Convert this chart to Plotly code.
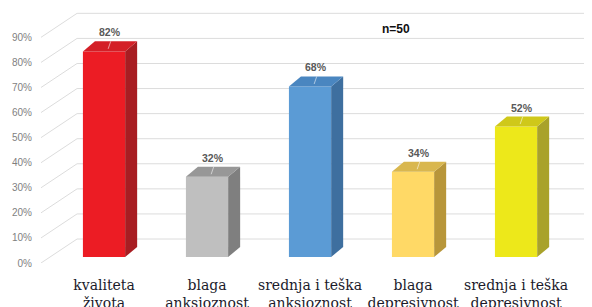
import plotly.graph_objects as go

categories = ["kvaliteta<br>života", "blaga<br>anksioznost", "srednja i teška<br>anksioznost",
              "blaga<br>depresivnost", "srednja i teška<br>depresivnost"]
values = [82, 32, 68, 34, 52]
tick_vals = [0, 10, 20, 30, 40, 50, 60, 70, 80, 90]
tick_text = [f"{v}%" for v in tick_vals]
note = "n=50"

front_colors = ["#EC1C24", "#BFBFBF", "#5B9BD5", "#FFD966", "#EDE81A"]
top_colors = ["#D41F27", "#979797", "#4A86C0", "#D9B74F", "#CFC81A"]
side_colors = ["#A81D22", "#7F7F7F", "#3E6F9F", "#B8963A", "#A9A22A"]

# geometry (style) constants
X0, X1 = -0.612, 4.718
Y0, Y1 = 0, 101.7
bar_w = 0.41
lift = 2.4
bdx, bdy = 0.1165, 4.0
wdx, wdy = 0.35, 9.57
grid_col = "#DCDCDC"

fig = go.Figure()

# back wall grid + side diagonals (below the bars)
for v in tick_vals:
    fig.add_shape(type="line", x0=X0, y0=v, x1=X0 + wdx, y1=v + wdy, xref="x", yref="y",
                  line=dict(color=grid_col, width=1), layer="below")
    fig.add_shape(type="line", x0=X0 + wdx, y0=v + wdy, x1=X1, y1=v + wdy, xref="x", yref="y",
                  line=dict(color=grid_col, width=1), layer="below")

idx = list(range(len(values)))
fig.add_trace(go.Bar(x=idx, y=values, base=[lift] * len(values), width=bar_w,
                     marker=dict(color=front_colors, line=dict(width=0)),
                     showlegend=False))

for i, v in enumerate(values):
    l, r = i - bar_w / 2, i + bar_w / 2
    top = v + lift
    # side face
    fig.add_trace(go.Scatter(x=[r, r + bdx, r + bdx, r, r], y=[lift, lift + bdy, top + bdy, top, lift],
                             fill="toself", fillcolor=side_colors[i], mode="lines",
                             line=dict(width=0, color=side_colors[i]), hoverinfo="skip", showlegend=False))
    # top face
    fig.add_trace(go.Scatter(x=[l, r, r + bdx, l + bdx, l], y=[top, top, top + bdy, top + bdy, top],
                             fill="toself", fillcolor=top_colors[i], mode="lines",
                             line=dict(width=0, color=top_colors[i]), hoverinfo="skip", showlegend=False))
    # leader line
    fig.add_trace(go.Scatter(x=[i + 0.04, i + 0.065], y=[top + 1.0, top + bdy], mode="lines",
                             line=dict(color="rgba(255,255,255,0.55)", width=1),
                             hoverinfo="skip", showlegend=False))
    fig.add_annotation(x=i + bdx / 2, y=top + bdy, text=f"<b>{v}%</b>", showarrow=False,
                       yanchor="bottom", yshift=1,
                       font=dict(family="Liberation Sans, Arial", size=10.5, color="#595959"))

fig.add_annotation(x=2.835, y=93.3, text=f"<b>{note}</b>", showarrow=False,
                   font=dict(family="Liberation Sans, Arial", size=12, color="#111111"))

fig.update_layout(
    width=592, height=307,
    margin=dict(l=33, r=10, t=0, b=52, pad=0, autoexpand=False),
    paper_bgcolor="white", plot_bgcolor="white",
    xaxis=dict(range=[X0, X1], tickvals=idx, ticktext=categories, showgrid=False,
               zeroline=False, showline=False, ticks="", automargin=False, ticklabelstandoff=12,
               tickfont=dict(family="DejaVu Serif, Liberation Serif", size=14, color="#1B1B2B")),
    yaxis=dict(range=[Y0, Y1], tickvals=tick_vals, ticktext=tick_text, showgrid=False,
               zeroline=False, showline=False, ticks="", ticklabelstandoff=8, automargin=False,
               tickfont=dict(family="Liberation Sans, Arial", size=10, color="#7F7F7F")),
)

fig.write_html("out.html")
